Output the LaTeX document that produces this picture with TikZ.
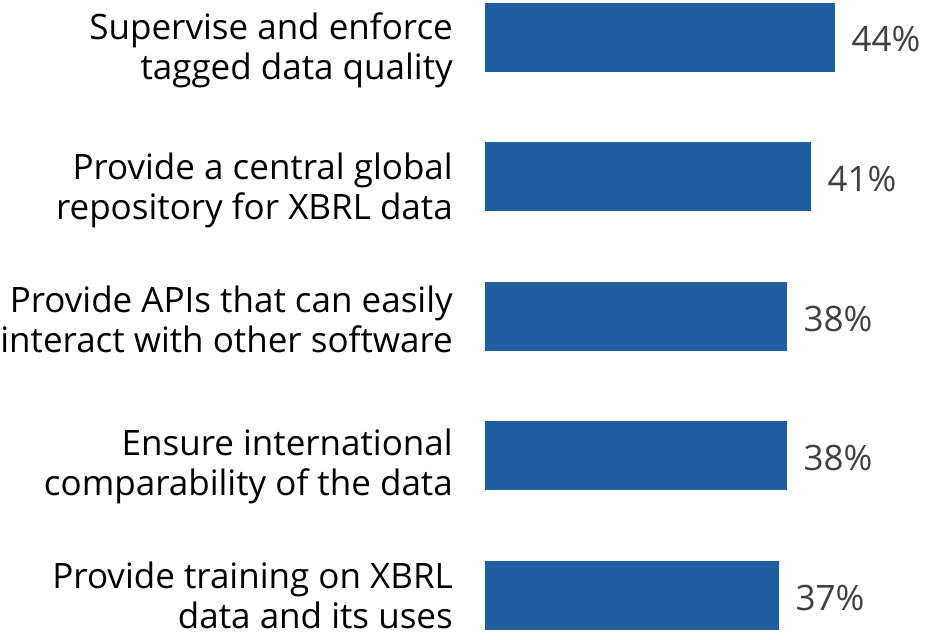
\documentclass[tikz,border=0pt]{standalone}
\usepackage{fontspec}
\setmainfont{Open Sans}
\usepackage{tikz}
\usetikzlibrary{positioning}

\begin{document}
\begin{tikzpicture}[x=1pt,y=-1pt,
  bar/.style={fill=barblue,draw=none,anchor=west,inner sep=0pt,minimum height=69pt},
  lbl/.style={align=right,font=\fontsize{35}{40}\selectfont,text=black,inner sep=0pt},
  pct/.style={font=\fontsize{35}{40}\selectfont,text=pctgray,inner sep=0pt}]
\definecolor{barblue}{HTML}{1F5FA0}
\definecolor{pctgray}{HTML}{404040}
\useasboundingbox (0,0) rectangle (925,639);
% Supervise
\node[bar,minimum width=350pt] (b1) at (485,37.5) {};
\node[pct,right=16pt of b1,yshift=-2pt] (p1) {44\%};
\node[lbl,left=32pt of b1,yshift=-13pt] (l1) {Supervise and enforce\\tagged data quality};

% Repository
\node[bar,minimum width=326pt] (b2) at (485,176.5) {};
\node[pct,right=16pt of b2,yshift=-2pt] (p2) {41\%};
\node[lbl,left=32pt of b2,yshift=-14pt] (l2) {Provide a central global\\repository for XBRL data};

% APIs
\node[bar,minimum width=302pt] (b3) at (485,316.5) {};
\node[pct,right=16pt of b3,yshift=-2pt] (p3) {38\%};
\node[lbl,left=32pt of b3,yshift=-2.5pt] (l3) {Provide APIs that can easily\\interact with other software};

% Comparability
\node[bar,minimum width=302pt] (b4) at (485,455.5) {};
\node[pct,right=16pt of b4,yshift=-2pt] (p4) {38\%};
\node[lbl,left=32pt of b4,yshift=-11pt] (l4) {Ensure international\\comparability of the data};

% Training
\node[bar,minimum width=294pt] (b5) at (485,595.5) {};
\node[pct,right=16pt of b5,yshift=-2pt] (p5) {37\%};
\node[lbl,left=32pt of b5] (l5) {Provide training on XBRL\\data and its uses};
\end{tikzpicture}
\end{document}
